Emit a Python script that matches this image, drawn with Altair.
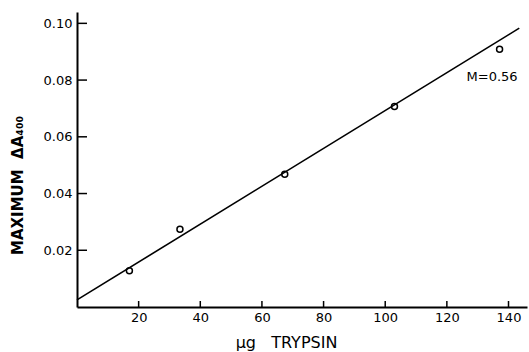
import altair as alt
import pandas as pd

# data
trypsin_ug = [17, 33.4, 67.4, 103, 137.1]
max_dA400 = [0.0128, 0.0274, 0.0468, 0.0707, 0.0909]
fit_x = [0, 143.5]
fit_y = [0.0025, 0.0983]
x_ticks = [20, 40, 60, 80, 100, 120, 140]
y_ticks = [0.02, 0.04, 0.06, 0.08, 0.10]
annot_text = ["M=0.56"]
annot_x = [126.4]
annot_y = [0.0811]

pts = pd.DataFrame({"x": trypsin_ug, "y": max_dA400})
fit = pd.DataFrame({"x": fit_x, "y": fit_y})
xt = pd.DataFrame({"v": x_ticks})
yt = pd.DataFrame({"v": y_ticks})
ann = pd.DataFrame({"t": annot_text, "x": annot_x, "y": annot_y})

W, H = 450, 295
xs = alt.Scale(domain=[0, 146], nice=False, zero=False)
ys = alt.Scale(domain=[0, 0.104], nice=False, zero=False)
FONT = "DejaVu Sans"

xax = alt.Axis(values=x_ticks, format="d", ticks=False, grid=False,
              domainColor="#000000", domainWidth=2, domainOpacity=1,
              labelFont=FONT, labelFontSize=13, labelColor="black", labelPadding=4,
              title="μg\u00a0\u00a0\u00a0TRYPSIN", titleFont=FONT, titleFontSize=16,
              titleFontWeight="normal",
              titleColor="black", titleX=209, titleY=35, titleBaseline="middle", titleAlign="center")
yax = alt.Axis(values=y_ticks, format=".2f", ticks=False, grid=False,
              domainColor="#000000", domainWidth=2, domainOpacity=1,
              labelFont=FONT, labelFontSize=13, labelColor="black", labelPadding=5,
              title="MAXIMUM\u00a0\u00a0ΔA₄₀₀", titleFont=FONT, titleFontSize=15, titleFontWeight="bold",
              titleColor="black", titleAngle=270, titleX=-60, titleY=173,
              titleBaseline="middle", titleAlign="center")

base_pts = alt.Chart(pts).mark_point(shape="circle", filled=False, size=36,
                                     strokeWidth=1.5, color="black", opacity=1).encode(
    x=alt.X("x:Q", scale=xs, axis=xax),
    y=alt.Y("y:Q", scale=ys, axis=yax),
)
line = alt.Chart(fit).mark_line(color="black", strokeWidth=1.6).encode(
    x=alt.X("x:Q", scale=xs), y=alt.Y("y:Q", scale=ys))
xtick = alt.Chart(xt).mark_rule(color="black", strokeWidth=1.5).encode(
    x=alt.X("v:Q", scale=xs), y=alt.value(H), y2=alt.value(H - 6))
ytick = alt.Chart(yt).mark_rule(color="black", strokeWidth=1.5).encode(
    y=alt.Y("v:Q", scale=ys), x=alt.value(0), x2=alt.value(10))
text = alt.Chart(ann).mark_text(font=FONT, fontSize=13, color="black", align="left",
                                baseline="middle").encode(
    x=alt.X("x:Q", scale=xs), y=alt.Y("y:Q", scale=ys), text="t:N")

chart = alt.layer(line, base_pts, xtick, ytick, text).properties(
    width=W, height=H,
    autosize=alt.AutoSizeParams(type="none"),
    padding={"left": 77, "top": 12, "right": 2, "bottom": 45},
).configure(background="white", view=alt.ViewConfig(strokeWidth=0, stroke="transparent"))

chart.save("out.html", embed_options={"renderer": "svg", "actions": False})
